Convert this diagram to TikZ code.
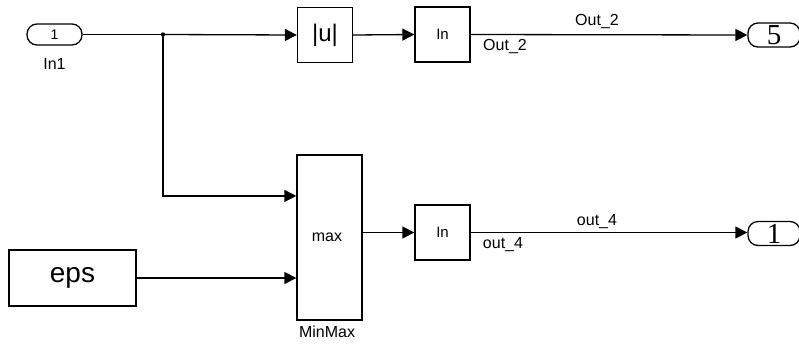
\documentclass[tikz,border=0pt]{standalone}
\usepackage{fontspec}
\setmainfont{Liberation Sans}
\newfontfamily\serifport{Liberation Serif}
\usetikzlibrary{arrows.meta}
\begin{document}
\begin{tikzpicture}[x=1pt,y=-1pt, line width=1.3pt,
  blk/.style={draw, fill=white, minimum width=55pt, minimum height=55pt, inner sep=0pt, font=\fontsize{15}{15}\selectfont},
  port/.style={draw, rounded corners=10pt, minimum width=55pt, minimum height=21pt, inner sep=0pt},
  sig/.style={-{Triangle[length=12pt,width=12pt]}},
  lbl/.style={font=\fontsize{16}{16}\selectfont, inner sep=0pt}]
\useasboundingbox (0,0) rectangle (799,346);
% top row
\node[port, font=\fontsize{14}{14}\selectfont] (in1) at (54.5,34.5) {1};
\node[lbl] (in1l) at (54.5,64) {In1};
\node[blk, font=\fontsize{24}{24}\selectfont] (abs) at (325,35) {|u|};
\node[blk] (ln1) at (442.5,34.5) {In};
\node[port, minimum width=52pt, minimum height=24pt, font=\serifport\fontsize{29}{29}\selectfont] (out5) at (774,35) {5};
\coordinate (j) at (163,34.5);
\draw (in1.east) -- (j);
\draw[sig] (j) -- (abs.west);
\fill (j) circle (2.2pt);
\draw[sig] (abs.east) -- (ln1.west);
\draw[sig] (ln1.east) -- (out5.west);
\node[lbl] (o2a) at (597,22) {Out\_2};
\node[lbl] (o2b) at (505,46) {Out\_2};
% bottom row
\node[blk, minimum width=65pt, minimum height=165pt] (mm) at (329.5,237.5) {};
\node[lbl] (mmt) at (327,237) {max};
\node[lbl] (mml) at (327,332) {MinMax};
\path (mm.north west) -- (mm.south west) coordinate[pos=0.25] (mmi1) coordinate[pos=0.75] (mmi2);
\node[blk, minimum width=127pt, minimum height=56pt, font=\fontsize{28}{28}\selectfont] (eps) at (72.5,278) {eps};
\node[blk] (ln2) at (442.5,232.5) {In};
\node[port, minimum width=52pt, minimum height=24pt, font=\serifport\fontsize{29}{29}\selectfont] (out1) at (774,233.5) {1};
\draw[sig] (j) |- (mmi1);
\draw[sig] (eps.east) -- (mm.west |- eps.east);
\draw[sig] (mm.east |- ln2.west) -- (ln2.west);
\draw[sig] (ln2.east) -- (out1.west |- ln2.east);
\node[lbl] (o4a) at (597,222) {out\_4};
\node[lbl] (o4b) at (503,245) {out\_4};
\end{tikzpicture}
\end{document}
